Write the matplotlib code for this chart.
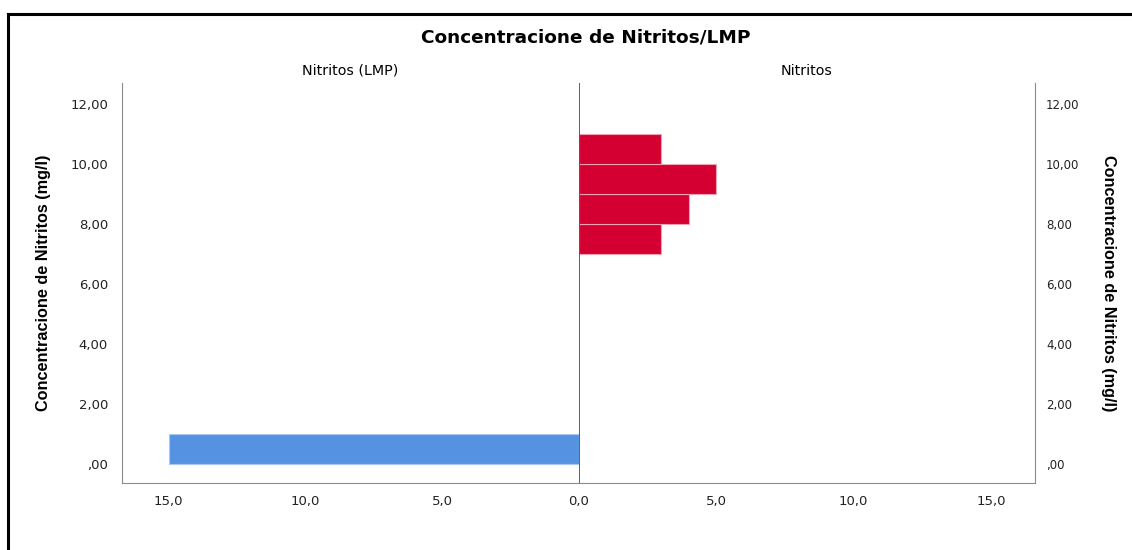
import matplotlib.pyplot as plt
from matplotlib.lines import Line2D
from matplotlib.ticker import FuncFormatter

# data
title = "Concentracione de Nitritos/LMP"
panel_names = ["Nitritos (LMP)", "Nitritos"]
y_label = "Concentracione de Nitritos (mg/l)"

lmp_bins = [0]
lmp_counts = [15]
nit_bins = [7, 8, 9, 10]
nit_counts = [3, 4, 5, 3]

y_ticks = [0, 2, 4, 6, 8, 10, 12]
x_ticks = [0, 5, 10, 15]

BLUE = "#5593e2"
RED = "#d50032"
SPINE = "#8c8c8c"

plt.rcParams["font.family"] = ["DejaVu Sans"]

fig = plt.figure(figsize=(11.32, 5.5), dpi=100)
ax_l = fig.add_axes([122 / 1132, 1 - 483 / 550, 457 / 1132, 400 / 550])
ax_r = fig.add_axes([579 / 1132, 1 - 483 / 550, 456 / 1132, 400 / 550])


def y_fmt(v, _pos):
    s = f"{v:.2f}".replace(".", ",")
    return s[1:] if s.startswith("0") else s


def x_fmt(v, _pos):
    return f"{v:.1f}".replace(".", ",")


ax_l.barh(lmp_bins, lmp_counts, height=1, align="edge", color=BLUE,
          edgecolor="#a9c8f0", linewidth=0.8)
ax_r.barh(nit_bins, nit_counts, height=1, align="edge", color=RED,
          edgecolor="#f2a0b4", linewidth=0.8)

for ax in (ax_l, ax_r):
    ax.set_ylim(-0.63, 12.7)
    ax.set_yticks(y_ticks)
    ax.yaxis.set_major_formatter(FuncFormatter(y_fmt))
    ax.xaxis.set_major_formatter(FuncFormatter(x_fmt))
    ax.tick_params(length=0, labelsize=9.5, colors="#222222")
    ax.spines["top"].set_visible(False)
    for s in ax.spines.values():
        s.set_color(SPINE)

# the shared 0,0 label is drawn once, by the left panel
ax_l.set_xticks(x_ticks)
ax_r.set_xticks(x_ticks[1:])
ax_l.set_xlim(16.7, 0)
ax_r.set_xlim(0, 16.6)

ax_l.spines["right"].set_visible(False)
ax_r.spines["left"].set_visible(False)
ax_r.yaxis.tick_right()
ax_r.tick_params(axis="y", labelsize=8.5, pad=8)
ax_l.tick_params(axis="y", pad=10)
ax_l.tick_params(axis="x", pad=9)
ax_r.tick_params(axis="x", pad=9)
ax_r.axvline(0, color="#444444", lw=1.2)

lab = dict(fontsize=11.7, fontweight="bold",
           family=["Liberation Sans Narrow", "Liberation Sans", "DejaVu Sans"])
ax_l.set_ylabel(y_label, labelpad=14, **lab)
ax_r.yaxis.set_label_position("right")
ax_r.set_ylabel(y_label, rotation=270, labelpad=26, **lab)

ax_l.set_title(panel_names[0], fontsize=10.3, pad=6)
ax_r.set_title(panel_names[1], fontsize=10.3, pad=6)
fig.text(586 / 1132, 1 - 38 / 550, title, ha="center", va="center",
         fontsize=13.3, fontweight="bold")

# outer frame (top and left only)
fig.add_artist(Line2D([8 / 1132, 1], [1 - 14 / 550, 1 - 14 / 550], color="black", lw=2.2))
fig.add_artist(Line2D([8 / 1132, 8 / 1132], [0, 1 - 14 / 550], color="black", lw=2.2))

fig.savefig("out.png", dpi=100)
